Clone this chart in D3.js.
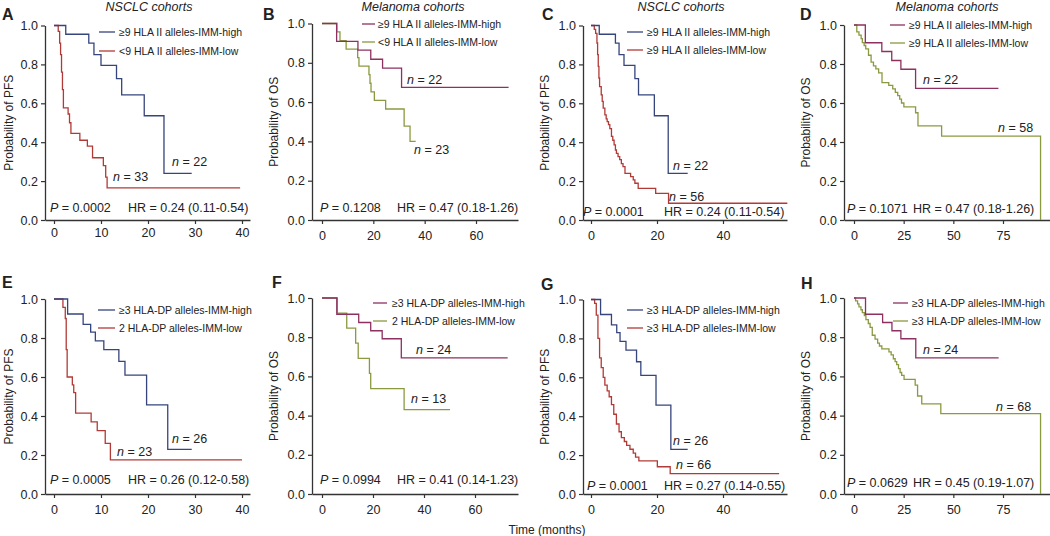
<!DOCTYPE html>
<html><head><meta charset="utf-8">
<script src="https://cdn.jsdelivr.net/npm/d3@7"></script>
<style>
body{margin:0;background:#fff}
svg{display:block}
text{font-family:"Liberation Sans",Arial,Helvetica,sans-serif;fill:#222}
</style>
</head><body>
<svg id="c" width="1050" height="536"></svg>
<script>
// ---------------- DATA ----------------
const panelLetters = ["A","B","C","D","E","F","G","H"];
const cohortTitles = ["NSCLC cohorts","Melanoma cohorts","NSCLC cohorts","Melanoma cohorts"];
const yAxisTitles = ["Probability of PFS","Probability of OS","Probability of PFS","Probability of OS",
                     "Probability of PFS","Probability of OS","Probability of PFS","Probability of OS"];
const legendHigh = ["≥9 HLA II alleles-IMM-high","≥9 HLA II alleles-IMM-high","≥9 HLA II alleles-IMM-high","≥9 HLA II alleles-IMM-high",
                    "≥3 HLA-DP alleles-IMM-high","≥3 HLA-DP alleles-IMM-high","≥3 HLA-DP alleles-IMM-high","≥3 HLA-DP alleles-IMM-high"];
const legendLow = ["<9 HLA II alleles-IMM-low","<9 HLA II alleles-IMM-low","≥9 HLA II alleles-IMM-low","≥9 HLA II alleles-IMM-low",
                   "2 HLA-DP alleles-IMM-low","2 HLA-DP alleles-IMM-low","≥3 HLA-DP alleles-IMM-low","≥3 HLA-DP alleles-IMM-low"];
const pValues = ["0.0002","0.1208","0.0001","0.1071","0.0005","0.0994","0.0001","0.0629"];
const hrValues = ["0.24 (0.11-0.54)","0.47 (0.18-1.26)","0.24 (0.11-0.54)","0.47 (0.18-1.26)",
                  "0.26 (0.12-0.58)","0.41 (0.14-1.23)","0.27 (0.14-0.55)","0.45 (0.19-1.07)"];
const nHigh = [22,22,22,22,26,24,26,24];
const nLow  = [33,23,56,58,23,13,66,68];
const xTickNsclcA = [0,10,20,30,40];
const xTickMel = [0,20,40,60];
const xTickNsclcC = [0,20,40];
const xTickMelD = [0,25,50,75];
const yTicks = [0,0.2,0.4,0.6,0.8,1.0];

// Kaplan-Meier step curves: event times (months), survival after step, last follow-up time
const iiHighNsclcT = [2.5,7.4,8.5,10.0,13.3,14.4,19.2,23.4];
const iiHighNsclcS = [0.955,0.909,0.85,0.795,0.727,0.643,0.536,0.24];
const iiHighNsclcEnd = 29.3;

const iiLowNsclcAT = [0.9,1.2,1.4,1.6,1.8,2.0,3.0,3.3,3.6,5.5,7.1,8.2,10.5,11.0,11.3];
const iiLowNsclcAS = [0.97,0.909,0.85,0.76,0.67,0.576,0.545,0.5,0.445,0.41,0.38,0.32,0.28,0.22,0.165];
const iiLowNsclcAEnd = 39.6;

const iiLowNsclcCT = [1.0,1.4,1.8,2.0,2.2,2.4,2.6,3.1,3.4,3.7,4.2,4.6,4.9,5.3,5.7,6.2,6.6,7.0,7.4,7.7,8.2,8.7,9.2,9.7,10.3,12.0,12.8,13.3,14.3,19.6,23.5];
const iiLowNsclcCS = [0.98,0.96,0.91,0.85,0.79,0.73,0.686,0.643,0.61,0.575,0.54,0.52,0.506,0.49,0.47,0.43,0.41,0.386,0.36,0.343,0.326,0.31,0.29,0.274,0.24,0.223,0.206,0.189,0.163,0.137,0.086];
const iiLowNsclcCEnd = 59.5;

const dpHighNsclcT = [2.9,6.2,7.8,8.8,10.6,13.8,15.1,19.7,24.2];
const dpHighNsclcS = [0.923,0.87,0.83,0.785,0.74,0.68,0.61,0.457,0.229];
const dpHighNsclcEnd = 29.3;

const dpLowNsclcET = [1.9,2.4,2.6,2.8,3.9,4.2,4.6,7.9,9.2,10.9,12.0];
const dpLowNsclcES = [0.957,0.9,0.74,0.6,0.56,0.52,0.415,0.37,0.325,0.26,0.175];
const dpLowNsclcEEnd = 40.0;

const dpLowNsclcGT = [1.1,1.6,2.1,2.6,3.1,3.7,4.2,4.9,5.5,6.2,6.9,7.7,8.5,9.2,10.1,10.8,11.8,12.8,13.5,14.5,20.1,24.0];
const dpLowNsclcGS = [0.98,0.92,0.8,0.7,0.65,0.6,0.56,0.53,0.5,0.46,0.41,0.36,0.32,0.29,0.27,0.25,0.23,0.21,0.19,0.17,0.14,0.105];
const dpLowNsclcGEnd = 57.0;

const iiHighMelT = [5.7,14.0,19.0,23.6,31.0];
const iiHighMelS = [0.909,0.864,0.818,0.773,0.675];
const iiHighMelEnd = 72.7;

const iiLowMelBT = [5.8,7.0,9.4,13.9,14.4,18.3,18.7,19.1,20.4,24.8,32.0,34.3];
const iiLowMelBS = [0.957,0.913,0.87,0.826,0.783,0.74,0.696,0.652,0.609,0.565,0.478,0.4];
const iiLowMelBEnd = 36.5;

const iiLowMelDT = [1.4,2.5,3.6,4.2,5.1,5.9,7.3,8.6,9.8,11.0,12.4,14.1,17.5,19.5,20.8,22.0,23.0,23.9,25.1,31.0,32.2,44.1,93.9];
const iiLowMelDS = [0.965,0.948,0.93,0.91,0.895,0.878,0.845,0.81,0.79,0.775,0.755,0.705,0.69,0.672,0.655,0.638,0.62,0.6,0.58,0.55,0.483,0.43,0.0];
const iiLowMelDEnd = 93.9;

const dpHighMelT = [5.8,14.4,19.1,23.6,31.1];
const dpHighMelS = [0.917,0.875,0.833,0.792,0.695];
const dpHighMelEnd = 72.8;

const dpLowMelFT = [6.0,9.7,13.2,14.2,18.6,19.1,32.2];
const dpLowMelFS = [0.923,0.846,0.77,0.692,0.615,0.538,0.43];
const dpLowMelFEnd = 50.2;

const dpLowMelHT = [0.8,1.8,2.5,3.5,4.2,5.2,6.0,7.2,8.1,9.2,10.6,11.9,12.8,14.0,17.6,18.7,19.8,20.7,21.5,22.4,23.2,24.0,25.2,30.8,32.0,34.1,43.7,93.9];
const dpLowMelHS = [0.985,0.97,0.955,0.94,0.925,0.91,0.89,0.87,0.85,0.81,0.79,0.77,0.755,0.74,0.725,0.71,0.69,0.675,0.66,0.64,0.62,0.605,0.585,0.555,0.5,0.46,0.41,0.0];
const dpLowMelHEnd = 93.9;

// ---------------- STYLE / LAYOUT ----------------
const colHighN = "#36457c", colLowN = "#b23a36", colHighM = "#8c3160", colLowM = "#8a9a40";
const axisCol = "#333";

const curveSets = [
  [[iiHighNsclcT,iiHighNsclcS,iiHighNsclcEnd,colHighN],[iiLowNsclcAT,iiLowNsclcAS,iiLowNsclcAEnd,colLowN]],
  [[iiHighMelT,iiHighMelS,iiHighMelEnd,colHighM],[iiLowMelBT,iiLowMelBS,iiLowMelBEnd,colLowM]],
  [[iiHighNsclcT,iiHighNsclcS,iiHighNsclcEnd,colHighN],[iiLowNsclcCT,iiLowNsclcCS,iiLowNsclcCEnd,colLowN]],
  [[iiHighMelT,iiHighMelS,iiHighMelEnd,colHighM],[iiLowMelDT,iiLowMelDS,iiLowMelDEnd,colLowM]],
  [[dpHighNsclcT,dpHighNsclcS,dpHighNsclcEnd,colHighN],[dpLowNsclcET,dpLowNsclcES,dpLowNsclcEEnd,colLowN]],
  [[dpHighMelT,dpHighMelS,dpHighMelEnd,colHighM],[dpLowMelFT,dpLowMelFS,dpLowMelFEnd,colLowM]],
  [[dpHighNsclcT,dpHighNsclcS,dpHighNsclcEnd,colHighN],[dpLowNsclcGT,dpLowNsclcGS,dpLowNsclcGEnd,colLowN]],
  [[dpHighMelT,dpHighMelS,dpHighMelEnd,colHighM],[dpLowMelHT,dpLowMelHS,dpLowMelHEnd,colLowM]]
];
const xTickSets = [xTickNsclcA,xTickMel,xTickNsclcC,xTickMelD,xTickNsclcA,xTickMel,xTickNsclcC,xTickMelD];

// l: y-axis x, r: x-axis end, t: y(1), b: y(0), z: px of x=0, rv/rp: reference tick value & px
const lay = [
 {l:45, r:250, t:25.5,b:220, z:54, rv:40, rp:242, pad:4, letter:[2,20],  title:[149,11], ylab:9,   leg:[99,115,119,32,51],  nH:[172,166], nL:[113,181], p:[50,212], hr:[128,212]},
 {l:312,r:518, t:23.5,b:220, z:322,rv:60, rp:476, pad:7, letter:[263,20],title:[413,11], ylab:274, leg:[362,375,378,24,42], nH:[407,84],  nL:[414,154], p:[320,212],hr:[397,212]},
 {l:583,r:787, t:25.5,b:220, z:591,rv:40, rp:723, pad:7, letter:[542,20],title:[681,11], ylab:545, leg:[627,643,647,32,50], nH:[673,170], nL:[669,201], p:[583,216],hr:[664,216]},
 {l:844,r:1050,t:25,  b:220, z:854,rv:75, rp:1003,pad:7, letter:[800,20],title:[947,11], ylab:806, leg:[890,905,909,25,43], nH:[923,84],  nL:[998,132], p:[847,213],hr:[913,213]},
 {l:45, r:250, t:299, b:494, z:54, rv:40, rp:242, pad:7, letter:[2,288], title:null,     ylab:9,   leg:[98,115,119,310,328],nH:[172,443], nL:[117,456], p:[50,484], hr:[128,484]},
 {l:312,r:518, t:298, b:494, z:322,rv:60, rp:475, pad:7, letter:[272,288],title:null,    ylab:274, leg:[373,387,392,303,321],nH:[416,354],nL:[411,403], p:[320,484],hr:[397,484]},
 {l:583,r:787, t:299.5,b:494,z:591,rv:40, rp:723, pad:7, letter:[541,290],title:null,    ylab:545, leg:[627,643,647,310,328],nH:[673,445],nL:[676,469], p:[587,490],hr:[664,490]},
 {l:844,r:1050,t:298, b:494, z:854,rv:75, rp:1003,pad:7, letter:[801,289],title:null,    ylab:806, leg:[893,908,912,303,321],nH:[923,354],nL:[996,411], p:[847,487],hr:[913,487]}
];

const svg = d3.select("#c");
const FS = 12.5;

lay.forEach((L, i) => {
  const ppu = (L.rp - L.z) / L.rv;
  const xs = d3.scaleLinear().domain([(L.l - L.z)/ppu, (L.r - L.z)/ppu]).range([L.l, L.r]);
  const ys = d3.scaleLinear().domain([0,1]).range([L.b, L.t]);
  const g = svg.append("g");

  // axes
  const xa = g.append("g").attr("transform", `translate(0,${L.b})`)
    .call(d3.axisBottom(xs).tickValues(xTickSets[i]).tickSize(4).tickPadding(L.pad).tickSizeOuter(0));
  const ya = g.append("g").attr("transform", `translate(${L.l},0)`)
    .call(d3.axisLeft(ys).tickValues(yTicks).tickFormat(d3.format(".1f")).tickSize(4).tickPadding(3).tickSizeOuter(0));
  [xa, ya].forEach(a => {
    a.select(".domain").attr("stroke", axisCol).attr("stroke-width", 1.3);
    a.selectAll(".tick line").attr("stroke", axisCol).attr("stroke-width", 1.2);
    a.selectAll(".tick text").attr("font-size", FS).attr("fill", "#222")
      .attr("font-family", '"Liberation Sans",Arial,sans-serif');
  });

  // curves
  const line = d3.line().x(d => xs(d[0])).y(d => ys(d[1])).curve(d3.curveStepAfter);
  curveSets[i].slice().reverse().forEach(([T, S, end, col]) => {
    const pts = [[0, 1]].concat(T.map((t, k) => [t, S[k]]));
    pts.push([end, S[S.length - 1]]);
    g.append("path").attr("d", line(pts)).attr("fill", "none")
      .attr("stroke", col).attr("stroke-width", 1.3);
  });

  // panel letter
  g.append("text").attr("x", L.letter[0]).attr("y", L.letter[1])
    .attr("font-size", 16).attr("font-weight", "bold").attr("fill", "#111").text(panelLetters[i]);
  // cohort title
  if (L.title) {
    g.append("text").attr("x", L.title[0]).attr("y", L.title[1]).attr("text-anchor", "middle")
      .attr("font-size", FS).attr("font-style", "italic").text(cohortTitles[i % 4]);
  }
  // y axis title
  g.append("text").attr("transform", `translate(${L.ylab},${(L.t + L.b) / 2}) rotate(-90)`)
    .attr("text-anchor", "middle").attr("dy", "0.35em").attr("font-size", 12).text(yAxisTitles[i]);

  // legend
  const [lx1, lx2, tx, ly1, ly2] = L.leg;
  [[ly1, legendHigh[i], curveSets[i][0][3]], [ly2, legendLow[i], curveSets[i][1][3]]].forEach(([yy, lab, col]) => {
    g.append("line").attr("x1", lx1).attr("x2", lx2).attr("y1", yy).attr("y2", yy)
      .attr("stroke", col).attr("stroke-width", 1.3);
    g.append("text").attr("x", tx).attr("y", yy).attr("dy", "0.35em").attr("font-size", 10.5).text(lab);
  });

  // n labels
  [[L.nH, nHigh[i]], [L.nL, nLow[i]]].forEach(([pos, n]) => {
    const t = g.append("text").attr("x", pos[0]).attr("y", pos[1]).attr("font-size", FS);
    t.append("tspan").attr("font-style", "italic").text("n");
    t.append("tspan").text(" = " + n);
  });

  // P and HR
  const pt = g.append("text").attr("x", L.p[0]).attr("y", L.p[1]).attr("font-size", FS);
  pt.append("tspan").attr("font-style", "italic").text("P");
  pt.append("tspan").text(" = " + pValues[i]);
  g.append("text").attr("x", L.hr[0]).attr("y", L.hr[1]).attr("font-size", FS).text("HR = " + hrValues[i]);
});

// shared x axis title
svg.append("text").attr("x", 547).attr("y", 534).attr("text-anchor", "middle")
  .attr("font-size", 12).text("Time (months)");
</script>
</body></html>
